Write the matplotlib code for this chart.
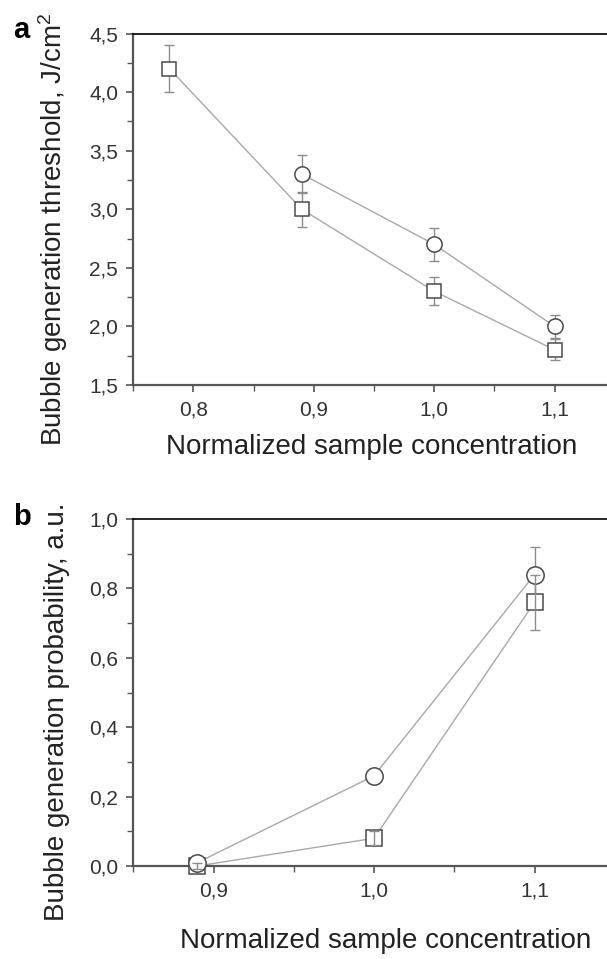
import matplotlib
matplotlib.use("Agg")
import numpy as np
import matplotlib.pyplot as plt
from matplotlib.ticker import MultipleLocator, FuncFormatter

plt.rcParams["font.family"] = ["Liberation Sans", "DejaVu Sans"]
plt.rcParams["mathtext.fontset"] = "custom"
plt.rcParams["mathtext.rm"] = "Liberation Sans"
plt.rcParams["mathtext.it"] = "Liberation Sans:italic"

# panel a: bubble generation threshold
conc_a_circ = [0.89, 1.00, 1.10]
thr_circ = [3.30, 2.70, 2.00]
thr_circ_err = [0.16, 0.14, 0.10]
conc_a_sq = [0.78, 0.89, 1.00, 1.10]
thr_sq = [4.20, 3.00, 2.30, 1.80]
thr_sq_err = [0.20, 0.15, 0.12, 0.09]

# panel b: bubble generation probability
conc_b = [0.89, 1.00, 1.10]
prob_circ = [0.01, 0.26, 0.84]
prob_circ_err = [0.01, 0.01, 0.08]
prob_sq = [0.00, 0.08, 0.76]
prob_sq_err = [0.01, 0.02, 0.08]

W, H = 607, 959
fig = plt.figure(figsize=(W / 100, H / 100), dpi=100)

def px_axes(left, top, right, bottom):
    return fig.add_axes([left / W, 1 - bottom / H, (right - left) / W, (bottom - top) / H])

ax_a = px_axes(133.3, 33.5, 614.8, 385)
ax_b = px_axes(133.3, 519, 614.8, 866)

comma = FuncFormatter(lambda v, p: ("%.1f" % v).replace(".", ","))
line_col = "#a8a8a8"
mk_col = "#4a4a4a"
err_col = "#8c8c8c"

def style(ax):
    ax.spines["right"].set_visible(False)
    ax.spines["top"].set_color("black")
    ax.spines["top"].set_linewidth(1.2)
    for s in ("left", "bottom"):
        ax.spines[s].set_color("#555555")
        ax.spines[s].set_linewidth(1.6)
    ax.tick_params(which="both", direction="out", colors="#555555", labelcolor="#333333",
                   top=False, right=False)
    ax.tick_params(which="major", length=5, width=1.2, labelsize=15, pad=6)
    ax.tick_params(which="minor", length=4, width=1.0)
    ax.xaxis.set_major_formatter(comma)
    ax.yaxis.set_major_formatter(comma)

def series(ax, x, y, err, marker, ms, err_on_top=False):
    ax.plot(x, y, color=line_col, lw=1.0, zorder=2, clip_on=False)
    ax.errorbar(x, y, yerr=err, fmt="none", ecolor=err_col, elinewidth=1.0,
                capsize=3.5, capthick=1.0, zorder=5 if err_on_top else 3, clip_on=False)
    ax.plot(x, y, ls="none", marker=marker, ms=ms, mfc="white", mec=mk_col,
            mew=1.1, zorder=4, clip_on=False)

# panel a
series(ax_a, conc_a_sq, thr_sq, thr_sq_err, "s", 9.5)
series(ax_a, conc_a_circ, thr_circ, thr_circ_err, "o", 11)
ax_a.set_xlim(0.75, 1.15)
ax_a.set_ylim(1.5, 4.5)
ax_a.set_xticks([0.8, 0.9, 1.0, 1.1])
ax_a.xaxis.set_minor_locator(MultipleLocator(0.05))
ax_a.yaxis.set_major_locator(MultipleLocator(0.5))
ax_a.yaxis.set_minor_locator(MultipleLocator(0.25))
style(ax_a)

# panel b: circles cover the squares, square error bars show through
series(ax_b, conc_b, prob_sq, prob_sq_err, "s", 11.5, err_on_top=True)
series(ax_b, conc_b, prob_circ, prob_circ_err, "o", 12.5)
ax_b.set_xlim(0.85, 1.15)
ax_b.set_ylim(0.0, 1.0)
ax_b.set_xticks([0.9, 1.0, 1.1])
ax_b.xaxis.set_minor_locator(MultipleLocator(0.05))
ax_b.yaxis.set_major_locator(MultipleLocator(0.2))
ax_b.yaxis.set_minor_locator(MultipleLocator(0.1))
style(ax_b)

# axis titles and panel letters
fig.text(372 / W, 1 - 447 / H, "Normalized sample concentration", fontsize=20,
         ha="center", va="center", color="#222222")
fig.text(386 / W, 1 - 941 / H, "Normalized sample concentration", fontsize=20,
         ha="center", va="center", color="#222222")
fig.text(53 / W, 1 - 229 / H, r"Bubble generation threshold, J/cm$^2$", fontsize=20,
         rotation=90, ha="center", va="center", color="#222222")
fig.text(57 / W, 1 - 712 / H, "Bubble generation probability, a.u.", fontsize=20,
         rotation=90, ha="center", va="center", color="#222222")
fig.text(21 / W, 1 - 30 / H, "a", fontsize=21, fontweight="bold", ha="center", va="center")
fig.text(22 / W, 1 - 517 / H, "b", fontsize=21, fontweight="bold", ha="center", va="center")

fig.savefig("out.png", dpi=100)
